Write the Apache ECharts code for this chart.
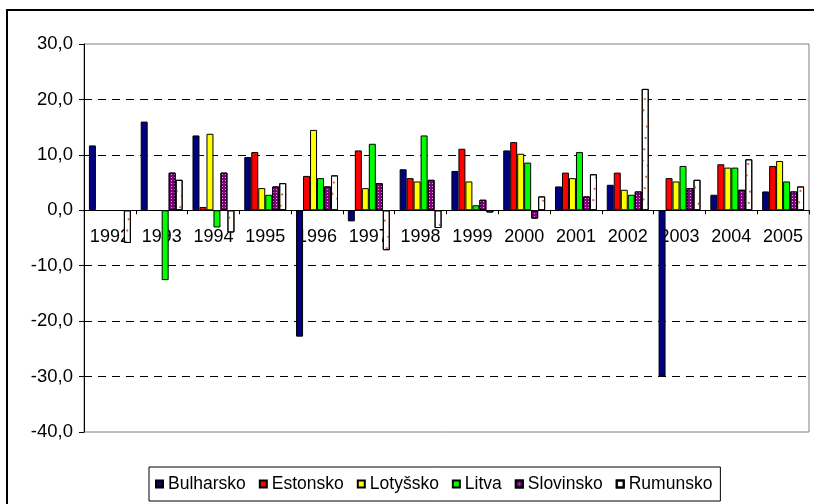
<!DOCTYPE html>
<html>
<head>
<meta charset="utf-8">
<script src="https://cdn.jsdelivr.net/npm/echarts@6/dist/echarts.min.js"></script>
<style>
  html, body { margin: 0; padding: 0; background: #fff; }
  #chart { width: 814px; height: 504px; }
</style>
</head>
<body>
<div id="chart"></div>
<script>
var years = ['1992', '1993', '1994', '1995', '1996', '1997', '1998', '1999', '2000', '2001', '2002', '2003', '2004', '2005'];
var bulharsko = [11.7, 16.0, 13.5, 9.6, -22.8, -2.0, 7.4, 7.1, 10.8, 4.3, 4.6, -30.0, 2.8, 3.4];
var estonsko = [null, null, 0.6, 10.5, 6.2, 10.8, 5.8, 11.1, 12.3, 6.8, 6.8, 5.8, 8.3, 8.0];
var lotyssko = [null, null, 13.8, 4.0, 14.5, 4.0, 5.2, 5.2, 10.2, 5.8, 3.7, 5.2, 7.7, 8.9];
var litva = [null, -12.6, -3.1, 2.8, 5.8, 12.0, 13.5, 0.9, 8.6, 10.5, 2.8, 8.0, 7.7, 5.2];
var slovinsko = [null, 6.8, 6.8, 4.3, 4.3, 4.9, 5.5, 1.9, -1.5, 2.5, 3.4, 4.0, 3.7, 3.4];
var rumunsko = [-5.9, 5.5, -4.0, 4.9, 6.3, -7.2, -3.2, -0.4, 2.5, 6.5, 21.9, 5.5, 9.2, 4.3];
var yMin = -40, yMax = 30, yStep = 10;

(function () {
  var font = "'Liberation Sans', Arial, sans-serif";
  var el = document.getElementById('chart');
  var chart = echarts.init(el, null, { renderer: 'canvas' });

  var gridTop = 44, gridBottom = 72;
  var plotH = el.clientHeight - gridTop - gridBottom;
  // move the category axis up to the zero line
  var zeroOffset = -plotH * (0 - yMin) / (yMax - yMin);

  function bar(name, data, color, decal) {
    var s = {
      name: name,
      type: 'bar',
      data: data,
      barGap: '0%',
      barCategoryGap: '19%',
      itemStyle: { color: color, borderColor: '#000', borderWidth: 1 }
    };
    if (decal) s.itemStyle.decal = decal;
    return s;
  }

  chart.setOption({
    animation: false,
    backgroundColor: '#fff',
    textStyle: { fontFamily: font },
    graphic: [{
      type: 'rect',
      shape: { x: 7, y: 10, width: 830, height: 520 },
      style: { fill: 'none', stroke: '#000', lineWidth: 2 },
      silent: true
    }],
    grid: {
      left: 84, right: 5, top: gridTop, bottom: gridBottom,
      show: true, borderColor: '#808080', borderWidth: 1
    },
    legend: {
      left: 149, top: 467,
      padding: [8, 8, 8, 6],
      borderColor: '#000', borderWidth: 1,
      itemGap: 13,
      itemWidth: 7, itemHeight: 7,
      icon: 'rect',
      textStyle: { fontSize: 17.5, color: '#000', fontFamily: font }
    },
    xAxis: {
      type: 'category',
      data: years,
      offset: zeroOffset,
      axisLine: { onZero: false, lineStyle: { color: '#000', width: 1 } },
      axisTick: { show: true, length: 4, lineStyle: { color: '#000' } },
      axisLabel: { interval: 0, hideOverlap: false, fontSize: 18, color: '#000', margin: 18, fontFamily: font },
      splitLine: { show: false }
    },
    yAxis: {
      type: 'value',
      min: yMin, max: yMax, interval: yStep,
      axisLine: { show: true, lineStyle: { color: '#000' } },
      axisTick: { show: true, length: 5, lineStyle: { color: '#000' } },
      axisLabel: {
        fontSize: 18.5, color: '#000', margin: 11, fontFamily: font,
        formatter: function (v) { return v.toFixed(1).replace('.', ','); }
      },
      splitLine: {
        show: true, showMinLine: false, showMaxLine: false,
        lineStyle: { color: '#000', type: [8, 6], width: 1 }
      }
    },
    series: [
      bar('Bulharsko', bulharsko, '#000080'),
      bar('Estonsko', estonsko, '#ff0000'),
      bar('Lotyšsko', lotyssko, '#ffff00'),
      bar('Litva', litva, '#00ff00'),
      bar('Slovinsko', slovinsko, '#800080', {
        symbol: 'rect', symbolSize: 1, color: 'rgba(255,255,255,0.65)',
        dashArrayX: [1, 2], dashArrayY: [1, 2], rotation: 0
      }),
      bar('Rumunsko', rumunsko, '#ffffff', {
        symbol: 'rect', symbolSize: 1, color: '#d0703c',
        dashArrayX: [[2, 5]], dashArrayY: [2, 7], rotation: Math.PI / 4
      })
    ]
  });

  window.addEventListener('resize', function () { chart.resize(); });
})();
</script>
</body>
</html>
